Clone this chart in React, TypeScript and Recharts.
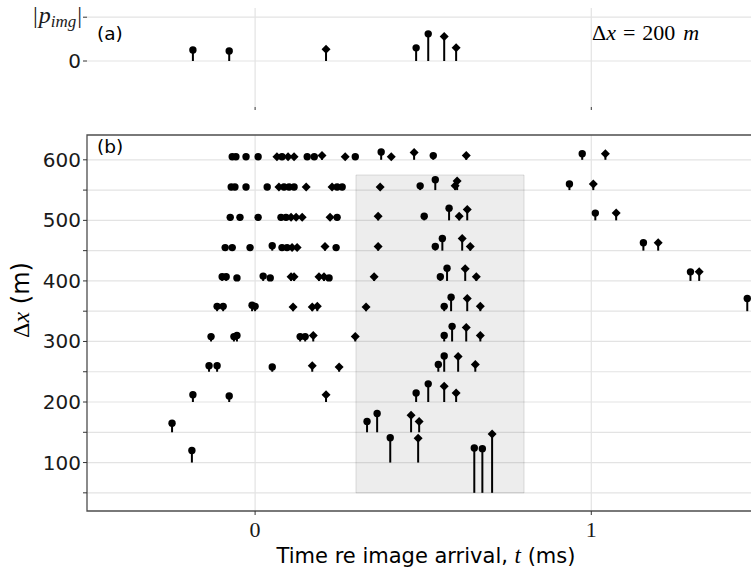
import React from 'react';
import { ScatterChart, Scatter, XAxis, YAxis, CartesianGrid, ErrorBar, ReferenceArea } from 'recharts';

// arrivals: [t (ms), Δx row (m), stem height (m)]
const circleArrivals: [number, number, number][] = [
  [-0.068, 600, 5], [-0.057, 600, 5], [-0.027, 600, 5], [0.009, 600, 5], [0.08, 600, 5],
  [0.155, 600, 5], [0.176, 600, 5], [0.298, 600, 5], [0.375, 600, 13], [0.53, 600, 7], [0.973, 600, 10],
  [-0.071, 550, 5], [-0.06, 550, 5], [-0.027, 550, 5], [0.036, 550, 5], [0.086, 550, 5], [0.101, 550, 5],
  [0.116, 550, 5], [0.244, 550, 5], [0.259, 550, 5], [0.491, 550, 7], [0.536, 550, 17], [0.935, 550, 10],
  [-0.074, 500, 5], [-0.045, 500, 5], [0.009, 500, 5], [0.077, 500, 5], [0.092, 500, 5], [0.244, 500, 5],
  [0.503, 500, 7], [0.577, 500, 20], [1.012, 500, 12],
  [-0.089, 450, 5], [-0.068, 450, 5], [-0.015, 450, 5], [0.051, 450, 8], [0.08, 450, 5], [0.095, 450, 5],
  [0.241, 450, 5], [0.536, 450, 7], [0.557, 450, 20], [1.155, 450, 13],
  [-0.098, 400, 7], [-0.086, 400, 7], [-0.054, 400, 5], [0.024, 400, 8], [0.045, 400, 5], [0.22, 400, 5],
  [0.551, 400, 7], [0.571, 400, 21], [1.295, 400, 15],
  [-0.113, 350, 8], [-0.095, 350, 8], [-0.009, 350, 10], [0.0, 350, 8], [0.5625, 350, 8], [0.583, 350, 23],
  [1.464, 350, 21],
  [-0.131, 300, 8], [-0.063, 300, 8], [-0.054, 300, 10], [0.134, 300, 8], [0.149, 300, 8], [0.5625, 300, 10],
  [0.586, 300, 25],
  [-0.137, 250, 10], [-0.113, 250, 10], [0.051, 250, 8], [0.545, 250, 12], [0.5625, 250, 26],
  [-0.185, 200, 12], [-0.077, 200, 10], [0.479, 200, 15], [0.515, 200, 30],
  [-0.247, 150, 15], [0.333, 150, 18], [0.363, 150, 31],
  [-0.188, 100, 20], [0.402, 100, 41],
  [0.652, 50, 74], [0.676, 50, 73],
];

const diamondArrivals: [number, number, number][] = [
  [0.065, 600, 5], [0.098, 600, 5], [0.116, 600, 5], [0.199, 600, 7], [0.268, 600, 5], [0.405, 600, 5],
  [0.473, 600, 12], [0.628, 600, 7], [1.042, 600, 10],
  [0.071, 550, 5], [0.152, 550, 5], [0.229, 550, 5], [0.372, 550, 5], [0.595, 550, 7], [0.601, 550, 15],
  [1.006, 550, 10],
  [0.107, 500, 5], [0.122, 500, 5], [0.14, 500, 5], [0.223, 500, 5], [0.366, 500, 7], [0.607, 500, 7],
  [0.631, 500, 18], [1.074, 500, 12],
  [0.11, 450, 5], [0.125, 450, 5], [0.208, 450, 7], [0.366, 450, 7], [0.616, 450, 20], [0.64, 450, 7],
  [1.199, 450, 13],
  [0.107, 400, 7], [0.116, 400, 7], [0.19, 400, 7], [0.205, 400, 7], [0.354, 400, 7], [0.625, 400, 20],
  [0.658, 400, 7], [1.321, 400, 15],
  [0.113, 350, 7], [0.17, 350, 7], [0.185, 350, 8], [0.33, 350, 7], [0.631, 350, 21], [0.67, 350, 8],
  [0.173, 300, 10], [0.298, 300, 8], [0.628, 300, 23], [0.67, 300, 10],
  [0.17, 250, 10], [0.25, 250, 8], [0.604, 250, 25], [0.655, 250, 12],
  [0.211, 200, 12], [0.5625, 200, 26], [0.598, 200, 15],
  [0.464, 150, 28], [0.488, 150, 18],
  [0.485, 100, 40],
  [0.705, 50, 97],
];

// panel (a), Δx = 200 m: [t (ms), |p| / |p_img|]
const panelACircles: [number, number][] = [[-0.185, 0.25], [-0.077, 0.23], [0.479, 0.3], [0.515, 0.62]];
const panelADiamonds: [number, number][] = [[0.211, 0.27], [0.5625, 0.56], [0.598, 0.3]];

const timeTicks = [0, 1];
const timeDomain: [number, number] = [-0.5, 1.6];
const dxTicks = [50, 100, 150, 200, 250, 300, 350, 400, 450, 500, 550, 600];
const dxDomain: [number, number] = [20, 641];
const ampTicks = [0, 1];
const ampDomain: [number, number] = [-1.05, 1.21];
const windowT: [number, number] = [0.3, 0.8];
const windowDx: [number, number] = [50, 575];

const SANS = '"DejaVu Sans", sans-serif';
const SERIF = '"Liberation Serif", serif';
const GRID = '#e3e3e3';

const rowPoints = (rows: [number, number, number][]) =>
  rows.map(([t, dx, h]) => ({ t, y: dx + h, stem: [h, 0] }));
const ampPoints = (rows: [number, number][]) =>
  rows.map(([t, a]) => ({ t, y: a, stem: [a, 0] }));

const Dot = (p: any) => <circle cx={p.cx} cy={p.cy} r={3.7} fill="#000" />;
const Diamond = (p: any) => {
  const s = 4.5;
  return <polygon points={`${p.cx},${p.cy - s} ${p.cx + s},${p.cy} ${p.cx},${p.cy + s} ${p.cx - s},${p.cy}`} fill="#000" />;
};

const DxTick = (p: any) => {
  const v = p.payload.value;
  if (v % 100 !== 0) return null;
  return (
    <text x={p.x} y={p.y} dy={7} textAnchor="end" fontFamily={SANS} fontSize={20} fill="#1a1a1a">
      {v}
    </text>
  );
};

const TimeTick = (p: any) => (
  <text x={p.x} y={p.y} dy={20} textAnchor="middle" fontFamily={SERIF} fontSize={22} fill="#1a1a1a">
    {p.payload.value}
  </text>
);

const AmpTick = (p: any) => {
  if (p.payload.value === 0) {
    return (
      <text x={p.x} y={p.y} dy={7} textAnchor="end" fontFamily={SANS} fontSize={20} fill="#1a1a1a">0</text>
    );
  }
  return (
    <text x={p.x + 1} y={p.y} dy={6} textAnchor="end" fontFamily={SERIF} fontSize={24} fill="#1a1a1a">
      <tspan>|</tspan>
      <tspan fontStyle="italic" dx={1}>p</tspan>
      <tspan fontStyle="italic" fontSize={17} dy={4}>img</tspan>
      <tspan dy={-4} dx={1}>|</tspan>
    </text>
  );
};

const stemBar = (
  <ErrorBar dataKey="stem" direction="y" width={0} stroke="#000" strokeWidth={2} isAnimationActive={false} />
);

export default function App() {
  return (
    <div style={{ position: 'absolute', left: 0, top: 0, width: 751, height: 578, overflow: 'hidden', background: '#fff' }}>
      <div style={{ position: 'absolute', left: 0, top: 0 }}>
        <ScatterChart width={800} height={115} margin={{ top: 8, right: 7, left: 0, bottom: 0 }}>
          <CartesianGrid stroke={GRID} strokeWidth={1.2} syncWithTicks />
          <XAxis type="number" dataKey="t" domain={timeDomain} ticks={timeTicks} axisLine={false}
            tickSize={3} tickLine={{ stroke: '#333' }} tick={() => null} height={8} allowDataOverflow />
          <YAxis type="number" dataKey="y" domain={ampDomain} ticks={ampTicks} width={87} axisLine={false}
            tickSize={4} tickLine={{ stroke: '#333' }} tick={AmpTick} allowDataOverflow />
          <Scatter data={ampPoints(panelACircles)} shape={Dot} isAnimationActive={false}>{stemBar}</Scatter>
          <Scatter data={ampPoints(panelADiamonds)} shape={Diamond} isAnimationActive={false}>{stemBar}</Scatter>
        </ScatterChart>
      </div>
      <div style={{ position: 'absolute', left: 0, top: 127 }}>
        <ScatterChart width={800} height={451} margin={{ top: 8, right: 7, left: 0, bottom: 0 }}>
          <CartesianGrid stroke={GRID} strokeWidth={1.2} syncWithTicks />
          <XAxis type="number" dataKey="t" domain={timeDomain} ticks={timeTicks} axisLine={false}
            tickSize={4} tickLine={{ stroke: '#333' }} tick={TimeTick} height={67} allowDataOverflow />
          <YAxis type="number" dataKey="y" domain={dxDomain} ticks={dxTicks} width={87} axisLine={false}
            tickSize={4} tickLine={{ stroke: '#333' }} tick={DxTick} allowDataOverflow />
          <ReferenceArea x1={windowT[0]} x2={windowT[1]} y1={windowDx[0]} y2={windowDx[1]}
            fill="#000" fillOpacity={0.07} stroke="#000" strokeOpacity={0.12} />
          <Scatter data={rowPoints(circleArrivals)} shape={Dot} isAnimationActive={false}>{stemBar}</Scatter>
          <Scatter data={rowPoints(diamondArrivals)} shape={Diamond} isAnimationActive={false}>{stemBar}</Scatter>
          <ReferenceArea x1={timeDomain[0]} x2={timeDomain[1]} y1={dxDomain[0]} y2={dxDomain[1]}
            fill="none" stroke="#4d4d4d" strokeWidth={1.3} />
        </ScatterChart>
      </div>

      <div style={{ position: 'absolute', left: 97, top: 25, fontFamily: SANS, fontSize: 18.5, lineHeight: 1 }}>(a)</div>
      <div style={{ position: 'absolute', left: 97, top: 138, fontFamily: SANS, fontSize: 18.5, lineHeight: 1 }}>(b)</div>
      <div style={{ position: 'absolute', left: 592, top: 22, fontFamily: SERIF, fontSize: 22, lineHeight: 1, whiteSpace: 'nowrap' }}>
        Δ<i>x</i>
        <span style={{ margin: '0 7px' }}>=</span>200
        <i style={{ marginLeft: 8 }}>m</i>
      </div>
      <div style={{ position: 'absolute', left: 21, top: 300, transform: 'translate(-50%, -50%) rotate(-90deg)',
        fontSize: 24, lineHeight: 1, whiteSpace: 'nowrap' }}>
        <span style={{ fontFamily: SERIF }}>Δ<i>x</i></span>
        <span style={{ fontFamily: SANS }}> (m)</span>
      </div>
      <div style={{ position: 'absolute', left: 426, top: 555, transform: 'translate(-50%, -50%)',
        fontFamily: SANS, fontSize: 21, lineHeight: 1, whiteSpace: 'nowrap' }}>
        Time re image arrival, <i style={{ fontFamily: SERIF, fontSize: 23 }}>t</i> (ms)
      </div>
    </div>
  );
}
